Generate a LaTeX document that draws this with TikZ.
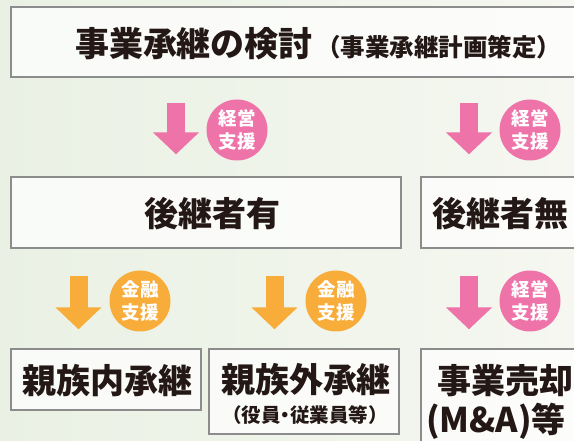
\documentclass[tikz,border=0pt]{standalone}
\usepackage{fontspec}
\newfontfamily\jp{Noto Sans CJK JP}
\usetikzlibrary{arrows.meta}

\definecolor{pinkc}{RGB}{238,115,168}
\definecolor{orangec}{RGB}{248,172,58}
\definecolor{boxgray}{RGB}{140,140,140}
\definecolor{ink}{RGB}{35,24,21}
\definecolor{bgA}{RGB}{234,241,228}
\definecolor{bgB}{RGB}{245,247,240}

\tikzset{
    box/.style={draw=boxgray, line width=1.4pt, fill=white, fill opacity=0.75,
        rectangle, inner sep=0pt},
    bigtxt/.style={text=ink, inner sep=0pt, font=\jp\bfseries\fontsize{34}{38}\selectfont},
    subtxt/.style={text=ink, inner sep=0pt, font=\jp\bfseries\fontsize{24.5}{28}\selectfont},
    smalltxt/.style={text=ink, inner sep=0pt, font=\jp\bfseries\fontsize{19.5}{23}\selectfont},
    badge/.style={circle, minimum size=61pt, inner sep=0pt, text=white, align=center,
        font=\jp\bfseries\fontsize{18.5}{23}\selectfont},
    blockarrow/.style={line width=18pt, -{Triangle[width=45pt,length=22pt]}}
}

\begin{document}
\begin{tikzpicture}[x=1pt, y=-1pt]
        \useasboundingbox (0,0) rectangle (574,441);
        \clip (0,0) rectangle (574,441);
        \shade[left color=bgA, right color=bgB] (0,0) rectangle (574,441);

        % boxes
        \node[box, minimum width=589pt, minimum height=70pt] (plan) at (305.5,42) {};
        \node[box, minimum width=390pt, minimum height=71pt] (have) at (206,212.5) {};
        \node[box, minimum width=179pt, minimum height=71pt] (none) at (510.5,212.5) {};
        \node[box, minimum width=190pt, minimum height=61pt] (family) at (106,379.5) {};
        \node[box, minimum width=190pt, minimum height=85pt] (staff) at (304,391.5) {};
        \node[box, minimum width=179pt, minimum height=111pt] (sale) at (510.5,404.5) {};

        % texts
        \node[bigtxt] (plantxt) at (194,44) {事業承継の検討};
        \node[subtxt, anchor=base west] (plansub) at ([xshift=3pt]plantxt.base east) {（事業承継計画策定）};
        \node[bigtxt] (havetxt) at (212,214) {後継者有};
        \node[bigtxt, anchor=west] (nonetxt) at (432,214) {後継者無};
        \node[bigtxt] (familytxt) at (108,381) {親族内承継};
        \node[bigtxt] (stafftxt) at (306,380) {親族外承継};
        \node[smalltxt] (staffsub) at (305,415) {（役員\kern-0.25em・\kern-0.25em 従業員等）};
        \node[bigtxt, anchor=west] (saletxt) at (437,381) {事業売却};
        \node[bigtxt, anchor=west] (salesub) at (426,421) {(M\&A)等};

        % arrow columns
        \coordinate (colA) at (176,0);
        \coordinate (colB) at (469,0);
        \coordinate (colC) at (78.5,0);
        \coordinate (colD) at (274.5,0);

        \draw[blockarrow, pinkc, shorten <=25pt, shorten >=22pt]
            (plan.south -| colA) -- (have.north -| colA);
        \draw[blockarrow, pinkc, shorten <=25pt, shorten >=22pt]
            (plan.south -| colB) -- (none.north -| colB);
        \draw[blockarrow, orangec, shorten <=27pt, shorten >=19pt]
            (have.south -| colC) -- (family.north -| colC);
        \draw[blockarrow, orangec, shorten <=27pt, shorten >=19pt]
            (have.south -| colD) -- (staff.north -| colD);
        \draw[blockarrow, pinkc, shorten <=27pt, shorten >=19pt]
            (none.south -| colB) -- (sale.north -| colB);

        % support badges
        \node[badge, fill=pinkc] (mgmtA) at (237,130) {経営\\支援};
        \node[badge, fill=pinkc] (mgmtB) at (530,130) {経営\\支援};
        \node[badge, fill=orangec] (finA) at (140,301) {金融\\支援};
        \node[badge, fill=orangec] (finB) at (336,301) {金融\\支援};
        \node[badge, fill=pinkc] (mgmtC) at (530,301) {経営\\支援};
    \end{tikzpicture}
\end{document}
